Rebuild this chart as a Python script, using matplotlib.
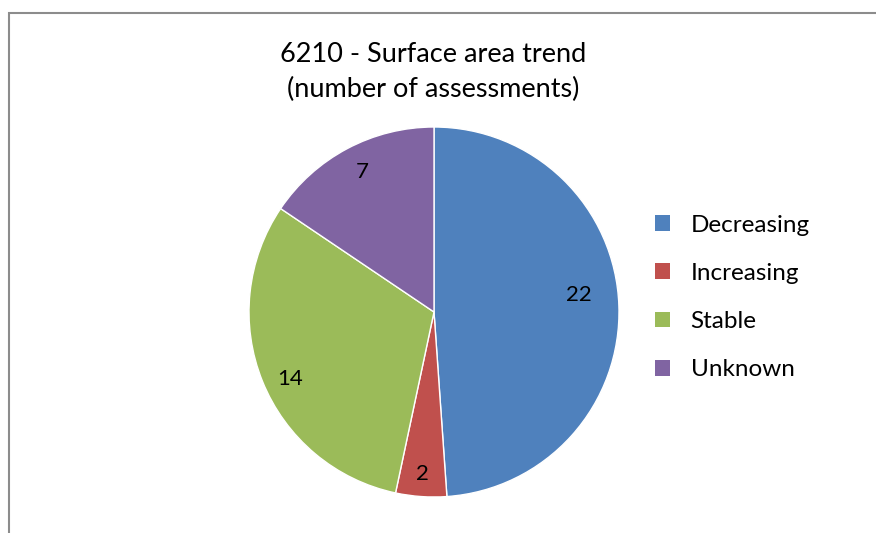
import matplotlib
matplotlib.use("Agg")
import matplotlib.pyplot as plt
from matplotlib.patches import Rectangle, Patch
import numpy as np

categories = ["Decreasing", "Increasing", "Stable", "Unknown"]
values = [22, 2, 14, 7]
colors = ["#4F81BD", "#C0504D", "#9BBB59", "#8064A2"]
title = "6210 - Surface area trend\n(number of assessments)"

plt.rcParams['font.family'] = ['Lato', 'DejaVu Sans']

W, H = 876, 533
fig = plt.figure(figsize=(W / 100, H / 100), dpi=100)

# chart border (cut at right/bottom like reference)
fig.patches.append(Rectangle((9 / W, -0.1), 1.2, 1 - 13 / H + 0.1,
                             transform=fig.transFigure, fill=False,
                             edgecolor="#8C8C8C", linewidth=1.5))

cx, cy, r = 434, 312, 185
ax = fig.add_axes([(cx - r) / W, (H - cy - r) / H, 2 * r / W, 2 * r / H])
wedges, _ = ax.pie(values, colors=colors, startangle=90, counterclock=False,
                   wedgeprops=dict(edgecolor="white", linewidth=1))
ax.set_xlim(-1, 1)
ax.set_ylim(-1, 1)
ax.set_aspect("auto")

label_r = [0.79, 0.88, 0.86, 0.85]
label_dang = [4.5, 0.0, 3.0, -1.0]
for w, v, lr, da in zip(wedges, values, label_r, label_dang):
    th = np.deg2rad((w.theta1 + w.theta2) / 2 + da)
    ax.text(lr * np.cos(th), lr * np.sin(th), str(v), ha="center", va="center",
            fontsize=16, color="black")

fig.text(433 / W, 1 - 72 / H, title, ha="center", va="center",
         fontsize=19.5, linespacing=1.5)

handles = [Patch(facecolor=c, edgecolor="none") for c in colors]
fig.legend(handles, categories, loc="center left",
           bbox_to_anchor=(655 / W, 1 - 297.5 / H), frameon=False,
           borderpad=0, borderaxespad=0,
           fontsize=17.5, handlelength=0.62, handleheight=0.62,
           handletextpad=0.85, labelspacing=1.12)

fig.savefig("out.png", dpi=100)
